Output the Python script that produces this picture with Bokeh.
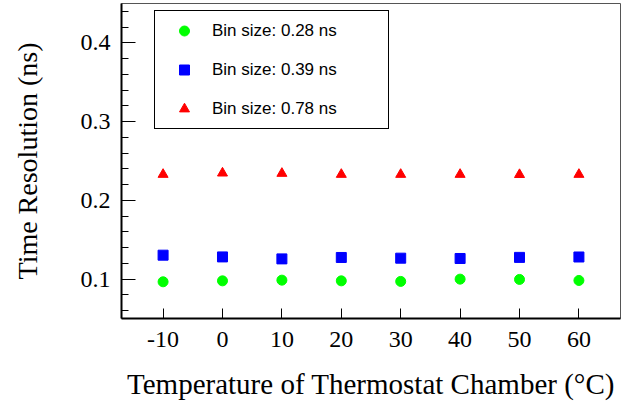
from bokeh.plotting import figure
from bokeh.models import ColumnDataSource, Legend, LegendItem, FixedTicker, Range1d
from bokeh.embed import file_html
from bokeh.resources import INLINE

# ---- data ----
temperature = [-10, 0, 10, 20, 30, 40, 50, 60]
res_028 = [0.0966, 0.0978, 0.0987, 0.0978, 0.0971, 0.1000, 0.0996, 0.0983]
res_039 = [0.1304, 0.1282, 0.1257, 0.1275, 0.1266, 0.1262, 0.1276, 0.1281]
res_078 = [0.2329, 0.2346, 0.2342, 0.2329, 0.2329, 0.2329, 0.2327, 0.2329]
labels = ["Bin size: 0.28 ns", "Bin size: 0.39 ns", "Bin size: 0.78 ns"]
x_ticks = [-10, 0, 10, 20, 30, 40, 50, 60]
x_tick_labels = ["-10", "0", "10", "20", "30", "40", "50", "60"]
y_ticks = [0.1, 0.2, 0.3, 0.4]
y_tick_labels = ["0.1", "0.2", "0.3", "0.4"]
y_minor = [0.06, 0.08, 0.12, 0.14, 0.16, 0.18, 0.22, 0.24, 0.26, 0.28,
           0.32, 0.34, 0.36, 0.38, 0.42, 0.44]

src = ColumnDataSource(dict(t=temperature, a=res_028, b=res_039, c=res_078))

p = figure(width=643, height=408, output_backend="svg", toolbar_location=None,
           x_range=Range1d(-17, 67), y_range=Range1d(0.05, 0.45),
           min_border_left=121, min_border_right=23, min_border_top=3,
           min_border_bottom=90)
p.background_fill_color = "white"
p.border_fill_color = "white"
p.outline_line_color = "#555555"
p.outline_line_width = 1
p.xgrid.visible = False
p.ygrid.visible = False

r1 = p.scatter("t", "a", source=src, marker="circle", size=10,
               fill_color="#00ff00", line_color="#00ff00")
r2 = p.scatter("t", "b", source=src, marker="square", size=10,
               fill_color="#0000ff", line_color="#0000ff")
r3 = p.scatter("t", "c", source=src, marker="triangle", size=10,
               fill_color="#ff0000", line_color="#ff0000")

serif = "Liberation Serif"
for ax in (p.xaxis[0], p.yaxis[0]):
    ax.axis_line_color = "black"
    ax.axis_line_width = 2
    ax.major_tick_line_color = "black"
    ax.minor_tick_line_color = "black"
    ax.major_tick_out = 0
    ax.minor_tick_out = 0
    ax.major_label_text_font = serif
    ax.major_label_text_font_size = "24px"
    ax.major_label_text_font_style = "normal"
    ax.major_label_text_color = "black"
    ax.axis_label_text_font = serif
    ax.axis_label_text_font_style = "normal"
    ax.axis_label_text_color = "black"

p.xaxis[0].ticker = FixedTicker(ticks=x_ticks, minor_ticks=[])
p.xaxis[0].major_label_overrides = {t: s for t, s in zip(x_ticks, x_tick_labels)}
p.xaxis[0].major_tick_in = 10
p.xaxis[0].minor_tick_in = 0
p.xaxis[0].major_label_standoff = 13
p.xaxis[0].axis_label = "Temperature of Thermostat Chamber (\u00b0C)"
p.xaxis[0].axis_label_text_font_size = "29px"
p.xaxis[0].axis_label_standoff = 18

p.yaxis[0].ticker = FixedTicker(ticks=y_ticks, minor_ticks=y_minor)
p.yaxis[0].major_label_overrides = {t: s for t, s in zip(y_ticks, y_tick_labels)}
p.yaxis[0].major_tick_in = 14
p.yaxis[0].minor_tick_in = 7
p.yaxis[0].major_label_standoff = 11
p.yaxis[0].axis_label = "Time Resolution (ns)"
p.yaxis[0].axis_label_text_font_size = "28px"
p.yaxis[0].axis_label_standoff = 35

legend = Legend(items=[LegendItem(label=labels[0], renderers=[r1]),
                       LegendItem(label=labels[1], renderers=[r2]),
                       LegendItem(label=labels[2], renderers=[r3])],
                location=(33, 189), orientation="vertical",
                padding=7, spacing=14, margin=0,
                glyph_width=44, glyph_height=25, label_height=25,
                label_width=169, label_standoff=6,
                label_text_font="Liberation Sans", label_text_font_size="17px",
                label_text_color="black",
                border_line_color="black", border_line_alpha=1.0,
                border_line_width=1,
                background_fill_color="white", background_fill_alpha=1.0)
p.add_layout(legend, "center")

open("out.html", "w").write(file_html(p, INLINE))
